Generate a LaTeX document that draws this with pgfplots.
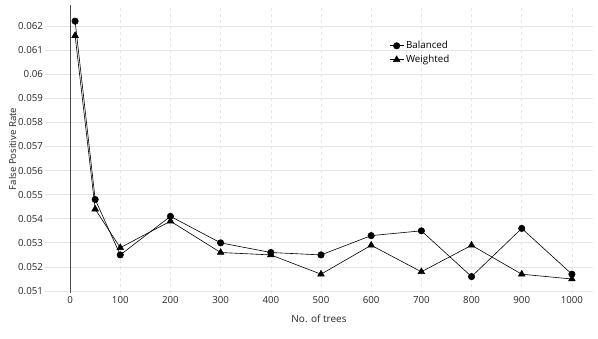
\documentclass[border=0pt]{standalone}
\usepackage{pgfplots}
\pgfplotsset{compat=1.18}
\usepackage{fontspec}
\setmainfont{Open Sans}
\begin{document}
\begin{tikzpicture}
\begin{axis}[
  scale only axis,
  width=548pt, height=288pt,
  xmin=-50, xmax=1042,
  ymin=0.05092, ymax=0.06287,
  axis line style={draw=none},
  xtick={0,100,...,1000},
  ytick={0.051,0.052,...,0.0625},
  major tick length=0pt,
  tick style={draw=none},
  grid=major,
  x grid style={gray!20, dashed, line width=0.6pt},
  y grid style={gray!20, line width=0.8pt},
  /pgf/number format/assume math mode=true,
  /pgf/number format/1000 sep={},
  yticklabel style={/pgf/number format/fixed, /pgf/number format/precision=3, font=\fontsize{9.7}{11}\selectfont, text=black!85, xshift=1.5pt},
  xticklabel style={font=\fontsize{9.7}{11}\selectfont, text=black!85},
  scaled y ticks=false,
  xlabel={No. of trees},
  ylabel={False Positive Rate},
  xlabel style={font=\fontsize{10}{11}\selectfont, yshift=-4pt, inner sep=4pt, text=black!85},
  ylabel style={font=\fontsize{9.6}{11}\selectfont, yshift=-5pt, text=black!85},
  legend style={draw=none, fill=none, font=\fontsize{9.8}{11}\selectfont, at={(0.626,0.885)}, anchor=north west, row sep=1pt, inner sep=1pt},
  legend cell align=left,
  legend image code/.code={
    \draw[mark repeat=2,mark phase=2,#1] plot coordinates {(0cm,0cm) (0.25cm,0cm) (0.5cm,0cm)};
  },
]
\draw[gray!60!black, line width=0.9pt] (axis cs:0,0.05092) -- (axis cs:0,0.06287);
\addplot[black, line width=0.6pt, mark=*, mark size=3.2pt] coordinates {
(10,0.0622) (50,0.0548) (100,0.0525) (200,0.0541) (300,0.0530) (400,0.0526) (500,0.0525) (600,0.0533) (700,0.0535) (800,0.0516) (900,0.0536) (1000,0.0517)};
\addlegendentry{Balanced}
\addplot[black, line width=0.6pt, mark=triangle*, mark size=3.8pt] coordinates {
(10,0.0616) (50,0.0544) (100,0.0528) (200,0.0539) (300,0.0526) (400,0.0525) (500,0.0517) (600,0.0529) (700,0.0518) (800,0.0529) (900,0.0517) (1000,0.0515)};
\addlegendentry{Weighted}
\end{axis}
\pgfresetboundingbox
\path ([xshift=-45pt,yshift=-46pt]current axis.south west) rectangle ([xshift=5pt,yshift=5pt]current axis.north east);
\end{tikzpicture}
\end{document}
